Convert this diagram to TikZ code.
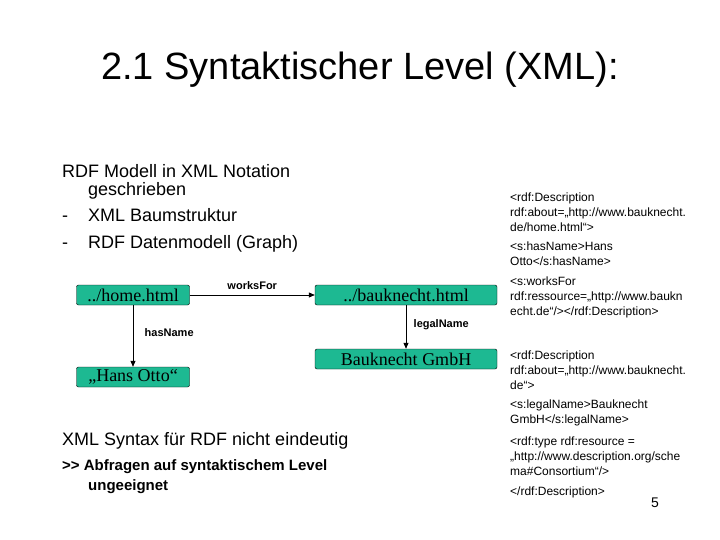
\documentclass[tikz,border=0pt]{standalone}
\usepackage{fontspec}
\setmainfont{Liberation Sans}
\newfontfamily\serif{Liberation Serif}
\usetikzlibrary{arrows.meta}
\definecolor{boxc}{HTML}{1DB992}
\begin{document}
\begin{tikzpicture}[x=1pt,y=-1pt,
  gbox/.style={draw=black,fill=boxc,rounded corners=2pt,minimum height=20pt,inner sep=1pt,font=\serif\fontsize{18}{18}\selectfont},
  lbl/.style={font=\bfseries\fontsize{11}{11}\selectfont},
  rt/.style={anchor=west,font=\fontsize{12}{15}\selectfont,inner sep=0pt},
  lt/.style={anchor=west,inner sep=0pt,font=\fontsize{18}{20}\selectfont},
  arr/.style={-{Triangle[length=6pt,width=5pt]},thick}]
\useasboundingbox (0,0) rectangle (720,540);
\node (title) at (360,70) {\fontsize{38}{38}\selectfont 2.1 Syntaktischer Level (XML):};
\node[lt] (t1) at (62,171) {RDF Modell in XML Notation};
\node[lt] (t2) at (88,191) {geschrieben};
\node[lt] (d1) at (62,218) {-\strut};
\node[lt] (t3) at (88,218) {XML Baumstruktur\strut};
\node[lt] (d2) at (62,244) {-\strut};
\node[lt] (t4) at (88,244) {RDF Datenmodell (Graph)\strut};
\node[gbox,minimum width=113pt] (home) at (133,295) {../home.html};
\node[gbox,minimum width=182pt] (bk) at (406,295) {../bauknecht.html};
\node[gbox,minimum width=113pt] (ho) at (133,377) {„Hans Otto“};
\node[gbox,minimum width=182pt] (gmbh) at (406,359) {Bauknecht GmbH};
\draw[arr] (home) -- (bk) node[lbl,midway,above=2pt] {worksFor};
\draw[arr] (home) -- (ho) node[lbl,pos=0.45,right=8pt] {hasName};
\draw[arr] (bk) -- (gmbh) node[lbl,pos=0.45,right=4pt] {legalName};
\node[lt] (s1) at (62,441) {XML Syntax für RDF nicht eindeutig};
\node[lt,font=\bfseries\fontsize{15}{16}\selectfont] (s2) at (62,467) {{>}{>} Abfragen auf syntaktischem Level};
\node[lt,font=\bfseries\fontsize{15}{16}\selectfont] (s3) at (88,487) {ungeeignet};
\node[rt] (r1) at (510,212) {\parbox{200pt}{<rdf:Description\\rdf:about=„http://www.bauknecht.\\de/home.html“>}};
\node[rt] (r2) at (510,254) {\parbox{200pt}{<s:hasName>Hans\\Otto</s:hasName>}};
\node[rt] (r3) at (510,297) {\parbox{200pt}{<s:worksFor\\rdf:ressource=„http://www.baukn\\echt.de“/></rdf:Description>}};
\node[rt] (r4) at (510,370) {\parbox{200pt}{<rdf:Description\\rdf:about=„http://www.bauknecht.\\de“>}};
\node[rt] (r5) at (510,413) {\parbox{200pt}{<s:legalName>Bauknecht\\GmbH</s:legalName>}};
\node[rt] (r6) at (510,456) {\parbox{200pt}{<rdf:type rdf:resource =\\„http://www.description.org/sche\\ma\#Consortium“/>}};
\node[rt] (r7) at (510,492) {</rdf:Description>};
\node[font=\fontsize{14}{14}\selectfont] (pg) at (655,503) {5};
\end{tikzpicture}
\end{document}
